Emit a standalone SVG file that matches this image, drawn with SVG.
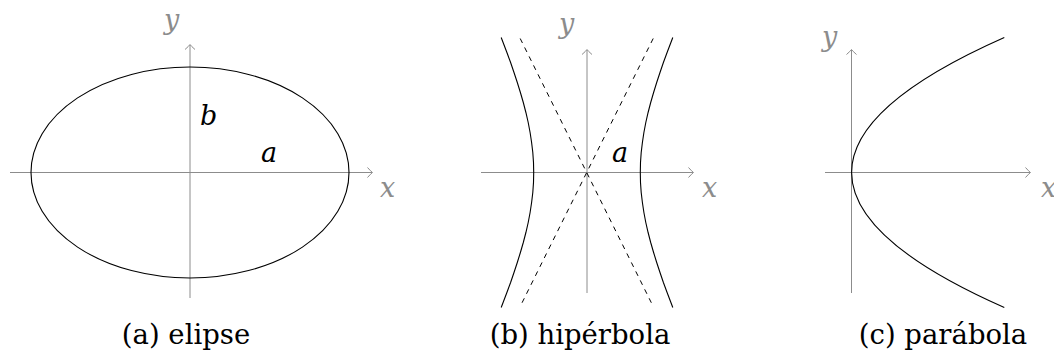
<svg xmlns="http://www.w3.org/2000/svg" width="1054" height="354" viewBox="0 0 1054 354">
  <style>
    .axis { stroke: #8c8c8c; stroke-width: 1; fill: none; marker-end: url(#arr); }
    .curve { stroke: #000; stroke-width: 1.1; fill: none; }
    .asym { stroke: #000; stroke-width: 1; fill: none; stroke-dasharray: 5 5; }
    .lab { font-family: "DejaVu Serif", "Liberation Serif", serif; font-style: italic; font-size: 27px; }
    .gray { fill: #8c8c8c; }
    .blk { fill: #000; }
    .cap { font-family: "DejaVu Serif", "Liberation Serif", serif; font-size: 27.5px; fill: #000; text-anchor: middle; }
  </style>
  <defs>
    <marker id="arr" viewBox="-6 -6 8 12" markerWidth="8" markerHeight="12" refX="0" refY="0" orient="auto" markerUnits="userSpaceOnUse">
      <path d="M-4.5,-5 Q-1,-1 0.5,0 Q-1,1 -4.5,5" fill="none" stroke="#8c8c8c" stroke-width="1"/>
    </marker>
  </defs>

  <g id="ellipse-panel">
    <g id="ellipse-axes">
      <line class="axis" x1="10" y1="172.5" x2="372" y2="172.5"/>
      <line class="axis" x1="190" y1="298" x2="190" y2="45"/>
    </g>
    <ellipse class="curve" cx="190" cy="172.5" rx="159" ry="105.5"/>
    <text class="lab gray" x="164" y="29">y</text>
    <text class="lab blk" x="200" y="125">b</text>
    <text class="lab blk" x="261" y="162">a</text>
    <text class="lab gray" x="380" y="197">x</text>
    <text class="cap" x="186" y="344">(a) elipse</text>
  </g>

  <g id="hyperbola-panel">
    <g id="hyperbola-axes">
      <line class="axis" x1="481" y1="172.5" x2="693" y2="172.5"/>
      <line class="axis" x1="587" y1="293" x2="587" y2="50"/>
    </g>
    <line class="asym" x1="520.2" y1="38.5" x2="653.2" y2="306.5"/>
    <line class="asym" x1="653.2" y1="38.5" x2="520.2" y2="306.5"/>
    <polyline class="curve" points="672.8,37.5 670.9,42.5 667.1,52.5 663.4,62.5 660,72.5 656.7,82.5 653.6,92.5 650.7,102.5 648.1,112.5 645.8,122.5 643.9,132.5 642.4,142.5 641.2,152.5 640.5,162.5 640.3,172.5 640.5,182.5 641.2,192.5 642.4,202.5 643.9,212.5 645.8,222.5 648.1,232.5 650.7,242.5 653.6,252.5 656.7,262.5 660,272.5 663.4,282.5 667.1,292.5 670.9,302.5 672.8,307.5"/>
    <polyline class="curve" points="501.2,37.5 503.1,42.5 506.9,52.5 510.6,62.5 514,72.5 517.3,82.5 520.4,92.5 523.3,102.5 525.9,112.5 528.2,122.5 530.1,132.5 531.6,142.5 532.8,152.5 533.5,162.5 533.7,172.5 533.5,182.5 532.8,192.5 531.6,202.5 530.1,212.5 528.2,222.5 525.9,232.5 523.3,242.5 520.4,252.5 517.3,262.5 514,272.5 510.6,282.5 506.9,292.5 503.1,302.5 501.2,307.5"/>
    <text class="lab gray" x="559" y="33">y</text>
    <text class="lab blk" x="612" y="162">a</text>
    <text class="lab gray" x="702" y="197">x</text>
    <text class="cap" x="580" y="344">(b) hipérbola</text>
  </g>

  <g id="parabola-panel">
    <g id="parabola-axes">
      <line class="axis" x1="825" y1="172.5" x2="1030" y2="172.5"/>
      <line class="axis" x1="851.5" y1="293" x2="851.5" y2="50"/>
    </g>
    <path class="curve" d="M1004.3,37.5 Q698.9,172.5 1004.3,307.5"/>
    <text class="lab gray" x="822" y="46">y</text>
    <text class="lab gray" x="1041" y="197">x</text>
    <text class="cap" x="943" y="344">(c) parábola</text>
  </g>
</svg>
